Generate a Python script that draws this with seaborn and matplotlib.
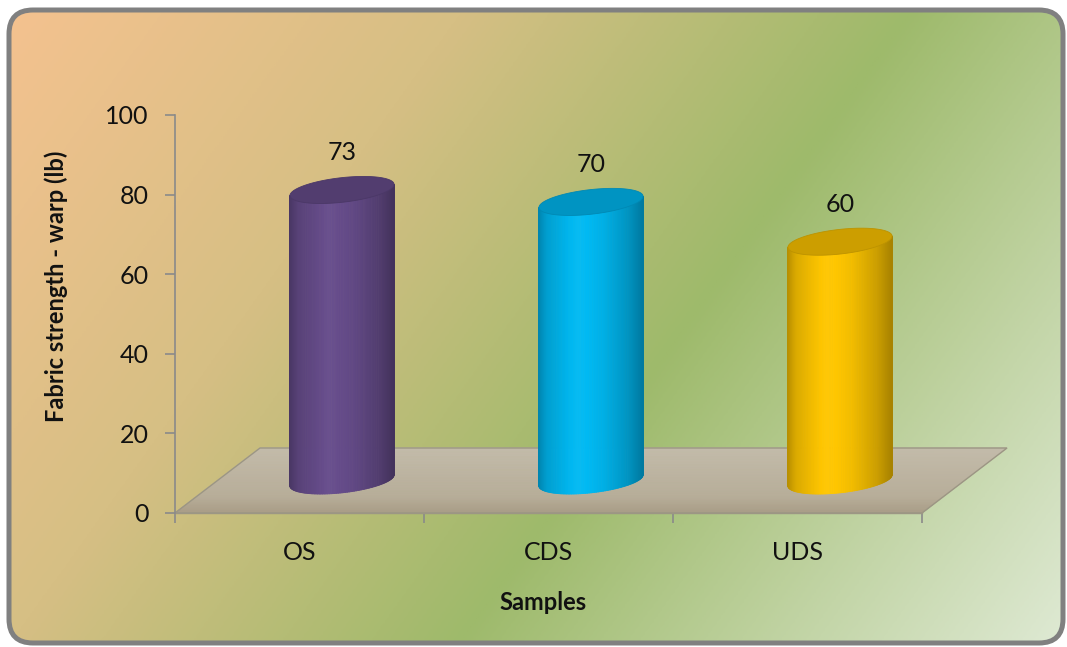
import numpy as np
import pandas as pd
import matplotlib
matplotlib.use("Agg")
import matplotlib.pyplot as plt
import seaborn as sns
from matplotlib.patches import FancyBboxPatch, Polygon
from matplotlib.collections import PolyCollection
from matplotlib.colors import to_rgb, LinearSegmentedColormap

# ---- data -------------------------------------------------------------
samples = ["OS", "CDS", "UDS"]
strength = [73, 70, 60]
y_ticks = [0, 20, 40, 60, 80, 100]
x_title = "Samples"
y_title = "Fabric strength - warp (lb)"

# ---- style ------------------------------------------------------------
bar_colors = ["#664C8B", "#00B9F3", "#FFC600"]
text_color = "#111111"
axis_gray = "#8A8A8A"

sns.set_style("ticks")
plt.rcParams["font.family"] = ["Lato", "DejaVu Sans"]

W, H = 1067, 647
fig = plt.figure(figsize=(W / 100, H / 100), dpi=100)
fig.patch.set_facecolor("white")

# ---- rounded gradient panel behind the chart ----------------------------
bg = fig.add_axes([0, 0, 1, 1])
bg.set_xlim(0, W)
bg.set_ylim(H, 0)
bg.axis("off")

u = np.linspace(0, 1, 500)
v = np.linspace(0, 1, 320)
U, V = np.meshgrid(u, v)
T = 0.7 * U + 0.3 * V
panel_cmap = LinearSegmentedColormap.from_list(
    "panel",
    [(0.0, "#F4C28F"), (0.3, "#D6BF84"), (0.6, "#9EBA6B"), (1.0, "#DEE9D3")],
)
frame = FancyBboxPatch((9, 10), W - 13, H - 14,
                       boxstyle="round,pad=0,rounding_size=24",
                       facecolor="none", edgecolor="#808080",
                       linewidth=3.6, zorder=2)
bg.add_patch(frame)
img = bg.imshow(panel_cmap(T), extent=(9, W - 4, H - 4, 10),
                aspect="auto", interpolation="bilinear", zorder=1)
img.set_clip_path(frame)

# ---- plot area ---------------------------------------------------------
L, R, TOP, BOT = 175, 922, 115, 513
ax = fig.add_axes([L / W, 1 - BOT / H, (R - L) / W, (BOT - TOP) / H])
ax.set_facecolor("none")

df = pd.DataFrame({"sample": samples, "strength": strength})
sns.barplot(data=df, x="sample", y="strength", width=0.418,
            color=bar_colors[0], ax=ax)
ax.set_xlim(-0.5, 2.5)
ax.set_ylim(0, 100)

# depth of the 3-D floor, expressed in data units
px_per_cat = (R - L) / 3
px_per_unit = (BOT - TOP) / 100
depth_dx = 85 / px_per_cat
depth_dy = 65 / px_per_unit

# floor: shaded parallelogram
n_band = 40
floor_cmap = LinearSegmentedColormap.from_list(
    "floor", [(0.0, "#A89C86"), (0.25, "#B7AD99"), (1.0, "#C3BBAA")])
polys, cols = [], []
for k in range(n_band):
    d0, d1 = k / n_band, (k + 1) / n_band
    polys.append([(-0.5 + depth_dx * d0, depth_dy * d0),
                  (2.5 + depth_dx * d0, depth_dy * d0),
                  (2.5 + depth_dx * d1, depth_dy * d1),
                  (-0.5 + depth_dx * d1, depth_dy * d1)])
    cols.append(floor_cmap((d0 + d1) / 2))
floor = PolyCollection(polys, facecolors=cols, edgecolors=cols,
                       linewidths=0.6, clip_on=False, zorder=1)
ax.add_collection(floor)
ax.add_patch(Polygon([(-0.5, 0), (2.5, 0), (2.5 + depth_dx, depth_dy),
                      (-0.5 + depth_dx, depth_dy)], closed=True,
                     facecolor="none", edgecolor="#9C9684", linewidth=1.0,
                     clip_on=False, zorder=1.5))


def shade(rgb, f):
    rgb = np.asarray(rgb)
    if f <= 1:
        return tuple(rgb * f)
    return tuple(rgb + (1 - rgb) * (f - 1))


# cylinders built from the seaborn bars
b_half = 3.1    # half height of the ellipses (data units)
tilt = 1.4      # rise of the right side of each ellipse (data units)
n_strip = 90
for bar, col in zip(ax.patches, bar_colors):
    bar.set_visible(False)
    a = bar.get_width() / 2
    cx = bar.get_x() + a + depth_dx / 2
    base = depth_dy / 2
    top = base + bar.get_height()
    rgb = to_rgb(col)

    phi = np.linspace(0, np.pi, n_strip + 1)
    xs = cx - a * np.cos(phi)
    yb = base - b_half * np.sin(phi) - tilt * np.cos(phi)
    yt = top - tilt * np.cos(phi)
    strips, scol = [], []
    for k in range(n_strip):
        strips.append([(xs[k], yb[k]), (xs[k + 1], yb[k + 1]),
                       (xs[k + 1], yt[k + 1]), (xs[k], yt[k])])
        uu = (xs[k] + xs[k + 1]) / 2
        uu = (uu - (cx - a)) / (2 * a)
        f = np.interp(uu, [0, 0.08, 0.38, 0.62, 0.86, 1.0],
                      [0.72, 0.86, 1.03, 0.95, 0.80, 0.66])
        scol.append(shade(rgb, f))
    ax.add_collection(PolyCollection(strips, facecolors=scol, edgecolors=scol,
                                     linewidths=0.6, clip_on=False, zorder=3))

    t = np.linspace(0, 2 * np.pi, 200)
    cap = np.column_stack([cx + a * np.cos(t),
                           top + b_half * np.sin(t) + tilt * np.cos(t)])
    ax.add_patch(Polygon(cap, closed=True, facecolor=shade(rgb, 0.8),
                         edgecolor=shade(rgb, 0.74), linewidth=0.6,
                         clip_on=False, zorder=4))

    ax.annotate(f"{bar.get_height():g}", (cx, top), xytext=(0, 27),
                textcoords="offset points", ha="center", va="center",
                fontsize=18, color=text_color, zorder=5)

# ---- axes, ticks, titles -----------------------------------------------
for side in ("top", "right"):
    ax.spines[side].set_visible(False)
ax.spines["left"].set_color(axis_gray)
ax.spines["left"].set_linewidth(1.2)
ax.spines["bottom"].set_color("#9C9684")
ax.spines["bottom"].set_linewidth(1.0)
ax.spines["bottom"].set_zorder(2)

ax.set_yticks(y_ticks)
ax.tick_params(axis="y", length=7, width=1.2, color=axis_gray, pad=12,
               labelsize=18, labelcolor=text_color)
ax.set_xticks(range(len(samples)), labels=samples)
ax.set_xticks([-0.5, 0.5, 1.5, 2.5], minor=True)
ax.tick_params(axis="x", which="major", length=0, pad=20,
               labelsize=18, labelcolor=text_color)
ax.tick_params(axis="x", which="minor", length=7, width=1.2, color=axis_gray)

ax.set_xlabel(x_title, fontsize=17, fontweight="bold", color=text_color)
ax.set_ylabel(y_title, fontsize=17, fontweight="bold", color=text_color)
ax.xaxis.set_label_coords(0.493, -0.195)
ax.yaxis.set_label_coords(-0.143, 0.57)

fig.savefig("out.png", dpi=100)
